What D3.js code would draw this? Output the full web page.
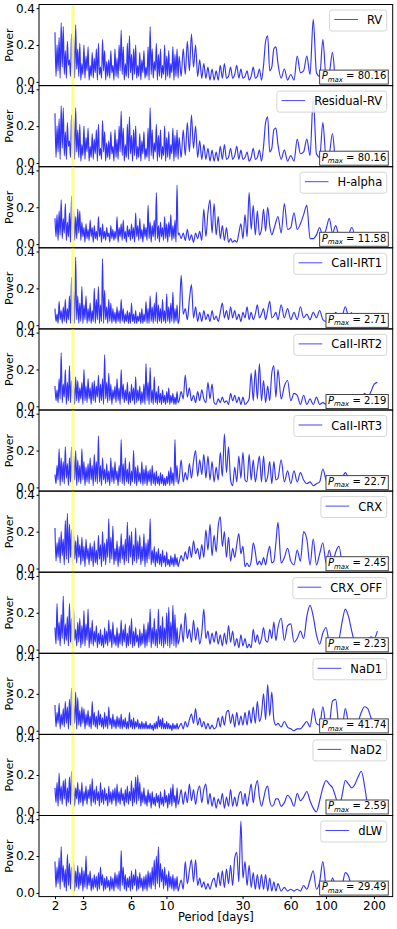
<!DOCTYPE html>
<html>
<head>
<meta charset="utf-8">
<script src="https://cdn.jsdelivr.net/npm/d3@7"></script>
<style>
    body { margin: 0; background: #fff; }
    text { font-family: "DejaVu Sans", sans-serif; }
</style>
</head>
<body>
<div id="chart"></div>
<script>
// Period grid the periodograms are sampled on: [from, to, number of points], log spaced
const gridSegments = [[2, 12, 120], [12, 50, 48], [50, 220, 32]];

// Power values, in units of 0.01
const rvPower = [
    27,3, 20,6, 24,2, 32,8, 30,4, 17,2, 22,9, 12,3, 26,5, 24,2,
    31,7, 18,3, 21,1, 10,4, 20,2, 14,6, 19,1, 9,3, 16,2, 13,5,
    18,1, 21,4, 8,2, 23,6, 17,1, 11,3, 12,2, 17,5, 9,1, 18,3,
    13,2, 20,6, 28,4, 19,1, 10,3, 21,2, 25,5, 15,1, 18,4, 20,2,
    9,3, 16,1, 12,5, 17,2, 8,3, 19,1, 30,4, 18,2, 11,6, 21,1,
    15,3, 18,2, 9,4, 20,1, 14,3, 17,2, 10,5, 19,1, 15,3, 18,2,
    14,3,18,4,22,6,26,8,20,3, 12,2,10,2,8,1,7,1,6,1, 9,2,10,2,3,8,2,4,9,2, 7,2,3,6,1,3,8,2,3,7, 1,9,22,25,6,8,18,19,
    10,2,7,1,4,1,14,5,6,14, 4,34,5,3,23,3,5,16,1,3, 1,2,1,2
];
const residualRvPower = [
    27,3, 20,6, 24,2, 31,8, 30,4, 17,2, 22,9, 12,3, 26,5, 24,2,
    30,6, 18,3, 21,1, 10,4, 20,2, 14,6, 19,1, 9,3, 16,2, 13,5,
    18,1, 21,4, 8,2, 23,6, 17,1, 11,3, 12,2, 17,5, 9,1, 18,3,
    13,2, 20,6, 28,4, 19,1, 10,3, 21,2, 25,5, 15,1, 18,4, 20,2,
    9,3, 16,1, 12,5, 17,2, 8,3, 19,1, 30,4, 18,2, 11,6, 21,1,
    15,3, 18,2, 9,4, 20,1, 14,3, 17,2, 10,5, 19,1, 15,3, 18,2,
    14,3,18,4,22,6,26,8,20,3, 12,2,10,2,8,1,7,1,6,1, 9,2,10,2,3,8,2,4,9,2, 7,2,3,6,1,3,8,2,3,7, 1,9,22,25,6,8,18,19,
    10,2,7,1,4,1,13,5,6,13, 4,35,5,3,22,3,5,16,1,3, 1,2,1,2
];
const hAlphaPower = [
    14,4, 16,2, 18,5, 24,3, 14,6, 22,2, 12,4, 17,1, 26,5, 18,2,
    15,3, 19,6, 18,2, 12,4, 9,1, 11,3, 8,2, 13,4, 9,1, 10,3,
    7,2, 15,4, 9,1, 11,3, 7,2, 9,4, 6,1, 10,3, 8,2, 7,3,
    15,1, 9,4, 11,2, 13,3, 7,1, 10,4, 8,2, 11,3, 9,1, 17,4,
    10,2, 14,3, 8,1, 11,4, 9,2, 21,3, 12,1, 10,4, 13,2, 28,3,
    10,1, 12,4, 9,2, 15,3, 11,1, 12,4, 16,2, 10,3, 13,1, 32,5,
    6,3,6,2,8,2,5,1,6,3, 7,2,19,4,17,24,6,22,5,15, 3,10,2,9,1,3,1,2,1,6, 11,3,16,4,28,8,21,5,18,5, 8,19,7,20,10,5,8,12,
    15,6,22,8,9,17,8,11,16,21, 3,3,5,9,4,8,14,6,10,5, 6,3,5,9,4
];
const irt1Power = [
    9,2, 6,1, 13,3, 8,1, 10,2, 14,1, 9,3, 16,1, 26,2, 18,1,
    37,3, 16,1, 12,2, 21,1, 11,3, 16,1, 9,2, 12,1, 8,2, 20,1,
    14,3, 21,1, 11,2, 36,1, 19,3, 10,1, 14,2, 12,1, 9,2, 7,1,
    10,2, 8,1, 14,2, 9,1, 6,2, 8,1, 7,1, 12,2, 6,1, 8,1,
    5,2, 7,1, 9,1, 6,2, 13,1, 9,1, 16,2, 10,1, 12,2, 18,1,
    11,2, 9,1, 14,2, 8,1, 17,2, 10,1, 12,2, 18,1, 9,2, 11,1,
    3,27,6,9,3,14,22,4,10,2, 7,2,8,3,6,2,8,3,5,2, 7,12,4,8,3,10,4,8,3,6, 2,7,4,10,3,7,3,6,11,4, 6,9,3,8,13,4,5,7,
    3,11,4,9,3,7,3,10,4,6, 3,7,4,8,3,2,5,3,7,4, 5,10,5,7
];
const irt2Power = [
    11,3, 9,2, 15,4, 29,2, 12,5, 20,1, 13,3, 22,2, 14,4, 11,1,
    16,3, 14,2, 10,4, 13,1, 20,3, 11,2, 15,4, 10,1, 13,3, 14,2,
    11,5, 17,2, 12,3, 15,1, 28,4, 13,2, 18,3, 12,1, 9,4, 11,2,
    15,3, 10,1, 20,4, 12,2, 9,3, 13,1, 8,2, 12,3, 10,1, 16,2,
    9,3, 11,1, 8,2, 12,1, 23,3, 13,1, 21,2, 9,1, 16,2, 8,1,
    11,2, 7,1, 9,2, 6,1, 8,2, 10,1, 6,2, 7,1, 5,1, 8,2,
    3,8,4,17,5,10,3,6,2,8, 3,9,4,2,13,4,12,2,1,4, 2,5,2,3,1,7,3,6,2,5, 1,5,1,2,4,18,3,20,4,23, 3,14,2,11,3,18,22,5,
    20,4,11,14,3,7,6,1,6,1, 4,1,5,1,2,1,2,3,1,2, 1,2,1,2,1,3,4,7,5,8, 12,13
];
const irt3Power = [
    7,2, 12,4, 21,1, 16,3, 14,2, 22,5, 13,1, 16,3, 22,2, 17,4,
    20,1, 15,3, 12,2, 21,4, 14,1, 11,3, 13,2, 16,4, 12,1, 18,3,
    14,2, 28,3, 12,1, 16,4, 10,2, 13,3, 9,1, 16,3, 11,2, 14,4,
    9,1, 12,3, 26,2, 13,1, 16,3, 10,2, 14,1, 9,3, 20,2, 11,1,
    12,3, 8,2, 14,1, 10,2, 12,1, 9,3, 10,1, 12,2, 8,1, 9,2,
    6,1, 8,2, 7,1, 5,1, 6,2, 9,1, 11,2, 8,1, 26,3, 12,2,
    4,15,3,8,4,13,5,14,20,6, 15,7,18,5,17,4,14,3,11,4, 19,6,29,8,22,4,1,11,3,17, 5,19,4,3,18,4,15,3,10,17, 3,17,3,6,14,2,14,4,
    5,15,3,9,2,9,3,8,4,2, 3,1,2,3,10,4,2,3,4,3, 5,8,5,3,4
];
const crxPower = [
    22,4, 14,6, 17,3, 20,7, 16,2, 26,5, 30,3, 24,6, 21,2, 19,5,
    15,3, 18,6, 13,2, 17,4, 12,1, 16,5, 11,2, 14,4, 12,1, 15,3,
    10,2, 18,5, 13,1, 20,4, 14,2, 16,6, 27,3, 17,5, 23,2, 11,4,
    15,1, 12,3, 19,5, 13,2, 16,4, 25,3, 18,6, 20,2, 13,4, 22,3,
    15,5, 18,2, 12,4, 19,1, 14,3, 16,5, 27,2, 10,3, 12,1, 9,3,
    11,2, 8,1, 10,3, 7,1, 9,2, 5,1, 7,2, 6,1, 8,2, 6,1,
    3,7,4,9,5,12,6,15,8,11, 5,13,6,21,10,24,7,18,9,23, 28,12,20,6,17,4,11,6,13,19, 8,12,1,3,1,4,14,9,2,4, 2,6,2,8,12,3,4,14,
    25,3,6,11,4,2,10,4,20,16, 2,16,2,8,14,3,10,3,9,12, 1
];
const crxOffPower = [
    12,3, 25,5, 15,2, 19,6, 29,3, 14,5, 18,2, 25,4, 17,1, 22,5,
    11,2, 15,4, 17,1, 13,3, 21,2, 14,5, 22,1, 12,3, 16,2, 10,4,
    13,1, 9,3, 11,2, 8,1, 12,3, 10,2, 16,4, 11,1, 15,3, 8,2,
    12,1, 9,3, 16,2, 11,4, 14,1, 9,2, 13,3, 17,1, 10,2, 12,4,
    8,1, 11,2, 9,3, 14,1, 11,2, 15,4, 22,1, 12,3, 17,2, 11,1,
    22,3, 13,2, 18,1, 12,3, 20,2, 23,1, 15,3, 24,2, 19,1, 12,3,
    5,14,4,20,6,11,4,16,5,12, 3,9,22,6,10,3,9,4,10,3, 8,2,9,3,13,4,10,2,6,1, 8,2,6,1,3,1,11,4,8,3, 6,12,5,4,11,6,15,5,
    12,17,5,13,14,4,6,10,6,18, 24,18,8,3,9,12,4,3,5,6, 15,22,18,10,4,4,5,6,5,7, 6,10
];
const naD1Power = [
    14,2, 10,4, 15,1, 9,3, 12,2, 16,4, 13,1, 17,3, 23,2, 14,4,
    21,1, 18,3, 11,2, 13,4, 12,1, 9,3, 11,2, 8,1, 16,3, 10,2,
    8,1, 11,3, 9,2, 7,1, 10,2, 8,1, 13,3, 7,1, 9,2, 6,1,
    8,2, 7,1, 9,1, 6,2, 7,1, 5,1, 10,2, 6,1, 7,1, 5,2,
    6,1, 4,1, 5,1, 4,1, 5,1, 3,1, 4,1, 3,0, 4,1, 5,1,
    8,2, 6,1, 7,1, 4,1, 5,1, 4,1, 3,0, 4,1, 3,1, 4,1,
    2,4,1,5,2,6,9,4,12,3, 7,2,5,1,4,1,3,1,2,7, 2,8,3,10,11,4,9,2,10,3, 8,3,10,3,11,4,13,4,16,5, 9,20,6,25,8,21,6,3,
    4,2,5,2,1,0,1,1,3,5, 2,12,4,3,13,3,4,16,17,3, 2,12,4,1,2,5,10,13,12,7, 3
];
const naD2Power = [
    13,5, 16,3, 21,6, 14,4, 17,7, 18,3, 13,5, 19,4, 22,6, 15,3,
    13,7, 16,4, 12,5, 16,3, 11,6, 14,4, 12,7, 15,3, 18,5, 12,4,
    14,6, 11,3, 16,5, 12,4, 13,6, 10,3, 14,5, 11,4, 12,6, 13,3,
    15,5, 11,4, 13,6, 10,3, 12,5, 14,4, 11,6, 17,3, 13,5, 19,4,
    20,6, 16,3, 11,5, 13,4, 9,3, 12,5, 10,2, 11,4, 8,3, 10,5,
    9,2, 11,4, 8,3, 12,5, 9,2, 10,4, 13,3, 15,5, 9,2, 13,4,
    6,12,4,11,5,15,6,12,4,11, 14,5,12,15,4,10,3,8,2,7, 4,10,2,8,3,12,3,8,3,9, 11,4,10,3,9,15,5,13,17,8, 3,7,12,14,6,3,4,7,
    7,3,5,9,7,3,10,6,8,11, 6,2,0,6,13,17,15,13,8,2, 9,17,15,13,15,19,22,14,2
];
const dLwPower = [
    17,3, 14,5, 19,2, 25,6, 15,3, 13,1, 21,4, 16,2, 14,5, 17,1,
    12,3, 15,2, 11,4, 14,1, 12,3, 20,2, 10,4, 12,1, 8,2, 10,3,
    9,1, 11,2, 14,4, 10,1, 8,2, 9,3, 7,1, 9,2, 8,1, 11,3,
    10,2, 12,1, 23,4, 14,2, 10,1, 8,3, 9,1, 12,2, 10,4, 13,1,
    9,2, 11,3, 8,1, 9,2, 10,1, 12,3, 11,2, 14,4, 18,2, 20,5,
    25,3, 16,6, 13,2, 14,4, 10,1, 12,3, 9,2, 10,1, 8,2, 9,1,
    3,7,2,17,5,12,18,6,18,4, 8,3,6,2,5,2,6,8,3,11, 4,12,3,13,5,15,4,19,22,6, 39,8,17,4,15,3,11,2,10,2, 10,2,10,1,8,1,6,1,
    5,1,3,1,2,1,2,1,4,2, 7,12,2,6,17,4,2,8,3,1, 4,11,9,2
];

const seriesNames = ["RV", "Residual-RV", "H-alpha", "CaII-IRT1", "CaII-IRT2", "CaII-IRT3",
    "CRX", "CRX_OFF", "NaD1", "NaD2", "dLW"];
const seriesPower = [rvPower, residualRvPower, hAlphaPower, irt1Power, irt2Power, irt3Power,
    crxPower, crxOffPower, naD1Power, naD2Power, dLwPower];
const pmaxLabels = ["80.16", "80.16", "11.58", "2.71", "2.19", "22.7", "2.45", "2.23", "41.74", "2.59", "29.49"];
const markerPeriod = 2.59;
const xTicks = [2, 3, 6, 10, 30, 60, 100, 200];
const yTicks = [0, 0.2, 0.4];

//Setting up the SVG
const width = 397;
const height = 929;
const margin = { top: 4.5, left: 39, right: 4.3 };
const panelH = 81.1;
const plotRight = width - margin.right;

const svg = d3.select("#chart")
    .append("svg")
    .attr("width", width)
    .attr("height", height);

//build the period grid
const periodGrid = gridSegments.flatMap(([p0, p1, n]) =>
    d3.range(n).map(i => p0 * Math.pow(p1 / p0, i / n)));

//log x scale shared by all panels
const xScale = d3.scaleLog()
    .domain([1.588, 262])
    .range([margin.left, plotRight]);

const line = d3.line()
    .x(d => xScale(d.period))
    .y(d => d.y)
    .curve(d3.curveMonotoneX);

seriesNames.forEach((name, i) => {
    const top = margin.top + i * panelH;
    const bottom = top + panelH;

    const yScale = d3.scaleLinear()
        .domain([-0.02, 0.42])
        .range([bottom, top]);

    const g = svg.append("g");

    g.append("clipPath")
        .attr("id", "clip" + i)
        .append("rect")
        .attr("x", margin.left)
        .attr("y", top)
        .attr("width", plotRight - margin.left)
        .attr("height", panelH);

    const points = seriesPower[i].map((p, k) => ({ period: periodGrid[k], y: yScale(p / 100) }));

    g.append("path")
        .datum(points)
        .attr("clip-path", `url(#clip${i})`)
        .attr("d", line)
        .attr("fill", "none")
        .attr("stroke", "#0000ff")
        .attr("stroke-opacity", 0.8)
        .attr("stroke-width", 1.15)
        .attr("stroke-linejoin", "round");

    //the yellow marker line
    g.append("line")
        .attr("x1", xScale(markerPeriod))
        .attr("x2", xScale(markerPeriod))
        .attr("y1", top)
        .attr("y2", bottom)
        .attr("stroke", "#ffff6e")
        .attr("stroke-opacity", 0.9)
        .attr("stroke-width", 3);

    //frame
    g.append("rect")
        .attr("x", margin.left)
        .attr("y", top)
        .attr("width", plotRight - margin.left)
        .attr("height", panelH)
        .attr("fill", "none")
        .attr("stroke", "#000")
        .attr("stroke-width", 1);

    //y axis (the 0.0 and 0.4 labels of neighbouring panels run into each other as in the original)
    const yAxis = g.append("g")
        .attr("transform", `translate(${margin.left},0)`)
        .call(d3.axisLeft(yScale).tickValues(yTicks).tickFormat(d3.format(".1f")).tickSize(2.5).tickPadding(1.5));
    yAxis.select(".domain").remove();
    yAxis.selectAll("text").attr("font-size", 12).attr("fill", "#000")
        .style("font-family", "DejaVu Sans, sans-serif");

    g.append("text")
        .attr("transform", `translate(13,${top + panelH / 2}) rotate(-90)`)
        .attr("text-anchor", "middle")
        .attr("font-size", 11)
        .text("Power");

    //legend box
    const legend = g.append("g");
    const legendText = legend.append("text")
        .attr("font-size", 11.5)
        .text(name);
    const tw = legendText.node().getComputedTextLength();
    const boxW = 4.7 + 23.7 + 9 + tw + 4.5;
    const bx = plotRight - 6 - boxW;
    const by = top + 5.5;
    legend.insert("rect", "text")
        .attr("x", bx)
        .attr("y", by)
        .attr("width", boxW)
        .attr("height", 21)
        .attr("rx", 2.5)
        .attr("fill", "#fff")
        .attr("fill-opacity", 0.85)
        .attr("stroke", "#d6d6d6");
    legend.append("line")
        .attr("x1", bx + 4.7)
        .attr("x2", bx + 28.4)
        .attr("y1", by + 9.5)
        .attr("y2", by + 9.5)
        .attr("stroke", "#0000ff")
        .attr("stroke-opacity", 0.72)
        .attr("stroke-width", 1);
    legendText
        .attr("x", bx + 37.4)
        .attr("y", by + 14);

    //P_max box
    const pm = g.append("g");
    const pmText = pm.append("text")
        .attr("font-size", 10)
        .attr("y", bottom - 6.2);
    pmText.append("tspan").attr("font-style", "italic").text("P");
    pmText.append("tspan").attr("font-style", "italic").attr("font-size", 7).attr("dy", 2.5).text("max");
    pmText.append("tspan").attr("dy", -2.5).text(" = " + pmaxLabels[i]);
    const pw = pmText.node().getComputedTextLength();
    const pbW = pw + 4;
    const pbx = plotRight - 4.4 - pbW;
    pm.insert("rect", "text")
        .attr("x", pbx)
        .attr("y", bottom - 15.5)
        .attr("width", pbW)
        .attr("height", 14)
        .attr("fill", "#fff")
        .attr("stroke", "#444")
        .attr("stroke-width", 1);
    pmText.attr("x", pbx + 2);
});

//x axis on the bottom panel
const axisY = margin.top + seriesNames.length * panelH;
const xAxis = svg.append("g")
    .attr("transform", `translate(0,${axisY})`)
    .call(d3.axisBottom(xScale).tickValues(xTicks).tickFormat(d3.format("d")).tickSize(2.5).tickPadding(2));
xAxis.select(".domain").remove();
xAxis.selectAll("text").attr("font-size", 12).attr("fill", "#000")
    .style("font-family", "DejaVu Sans, sans-serif");

svg.append("text")
    .attr("x", (margin.left + plotRight) / 2)
    .attr("y", 921)
    .attr("text-anchor", "middle")
    .attr("font-size", 11.5)
    .text("Period [days]");
</script>
</body>
</html>
